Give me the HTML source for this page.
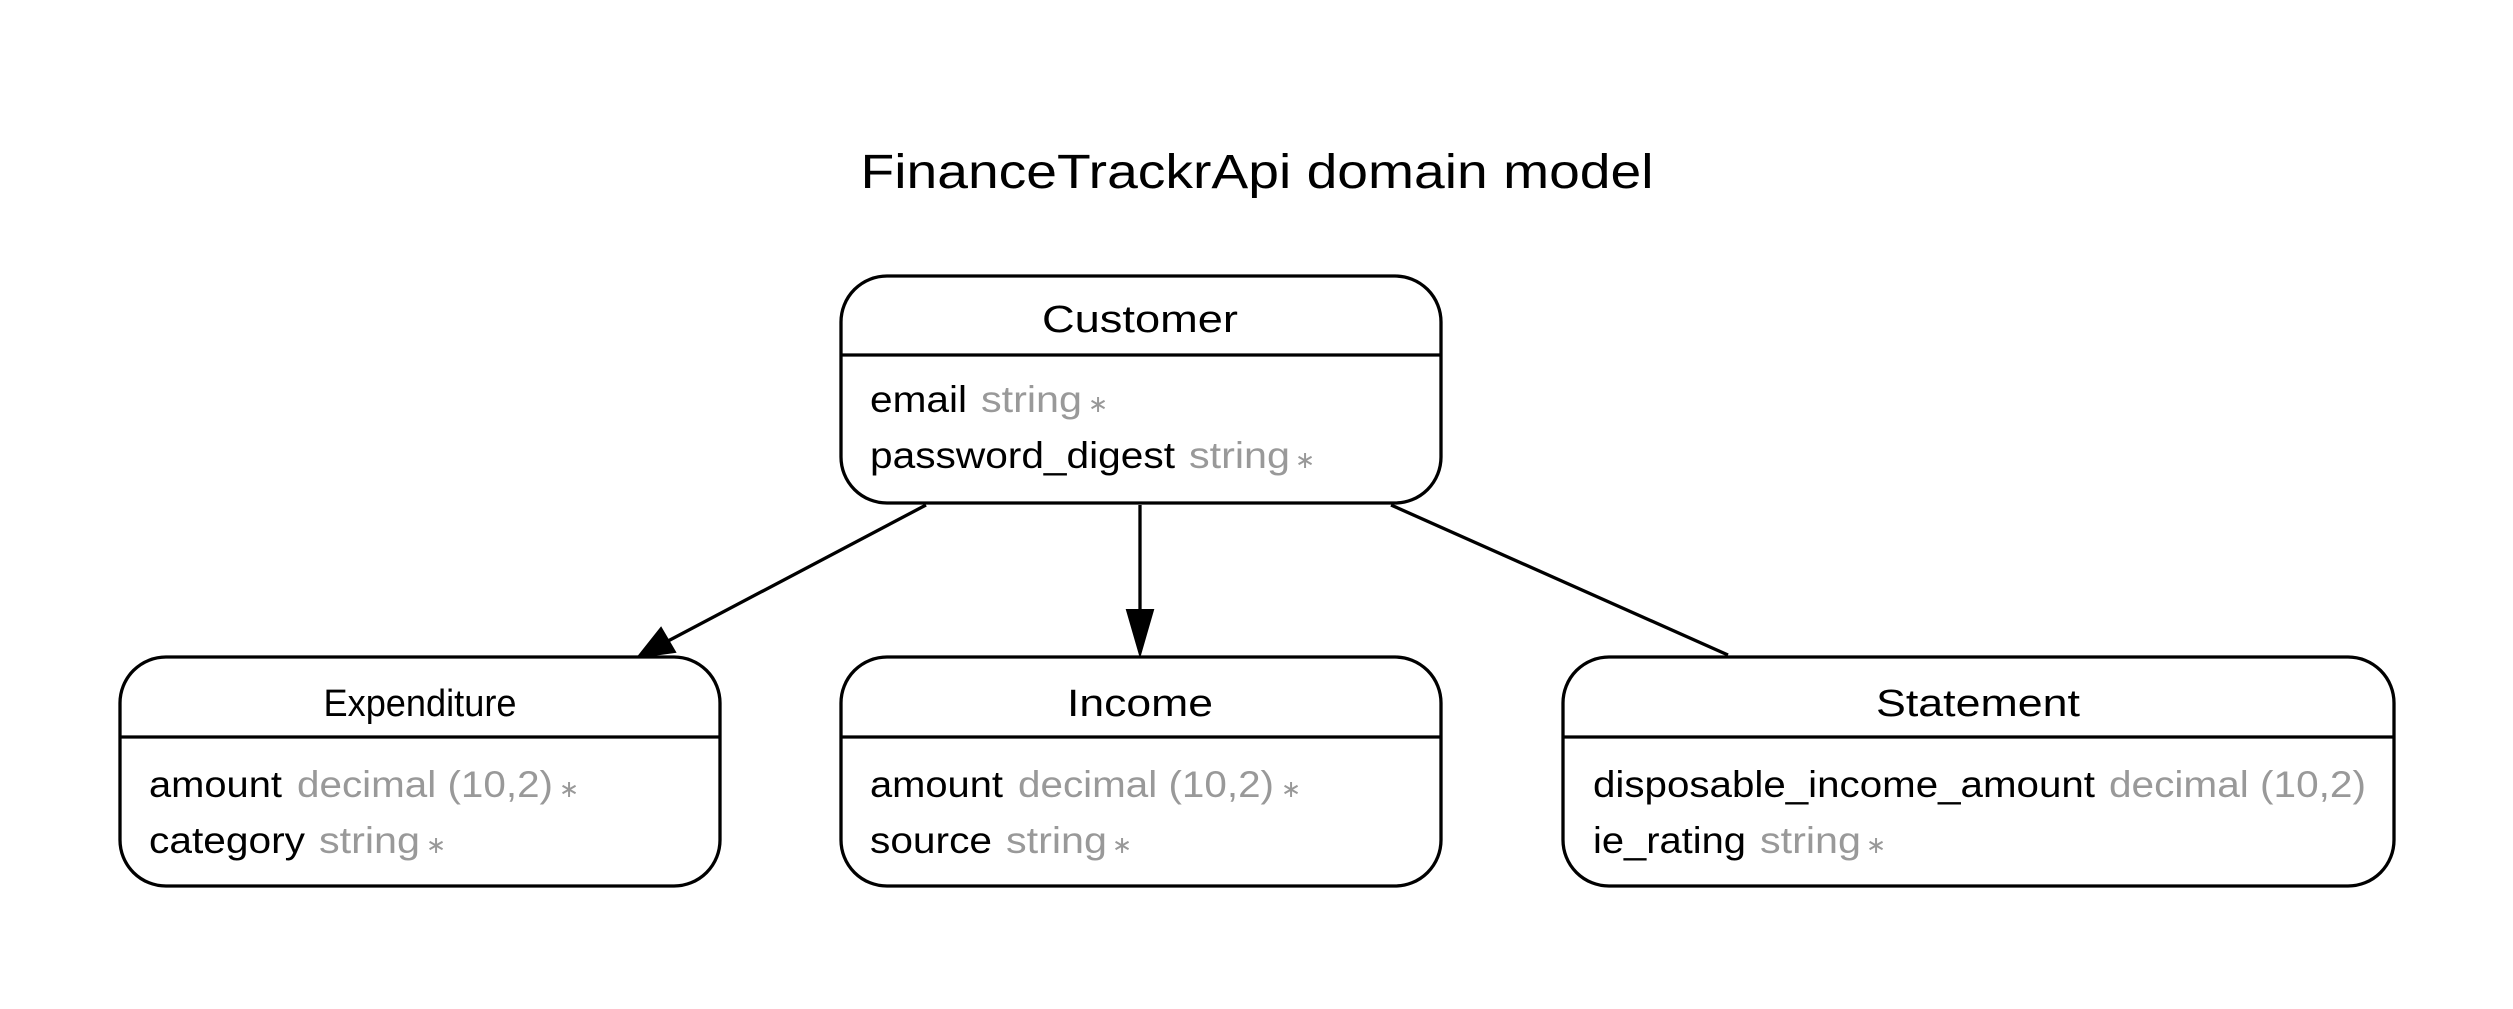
<!DOCTYPE html>
<html><head><meta charset="utf-8"><style>
html,body{margin:0;padding:0;background:#fff;}
svg{display:block;}
text{font-family:"Liberation Sans",Arial,sans-serif;}
.n{font-size:38px;fill:#000;}
.a{font-size:37px;fill:#000;}
.t{font-size:37px;fill:#999;}
.s{font-size:24px;fill:#999;}
</style></head><body>
<svg width="2513" height="1009" viewBox="0 0 2513 1009" xmlns="http://www.w3.org/2000/svg">
<rect width="2513" height="1009" fill="#fff"/>
<text x="1257" y="188" text-anchor="middle" font-size="48" textLength="793" lengthAdjust="spacingAndGlyphs">FinanceTrackrApi domain model</text>

<g fill="none" stroke="#000" stroke-width="3.3">
<rect x="841" y="276" width="600" height="227" rx="46"/>
<line x1="841" y1="355" x2="1441" y2="355"/>
<rect x="120" y="657" width="600" height="229" rx="46"/>
<line x1="120" y1="737" x2="720" y2="737"/>
<rect x="841" y="657" width="600" height="229" rx="46"/>
<line x1="841" y1="737" x2="1441" y2="737"/>
<rect x="1563" y="657" width="831" height="229" rx="46"/>
<line x1="1563" y1="737" x2="2394" y2="737"/>
<line x1="926" y1="505" x2="668" y2="641"/>
<line x1="1140" y1="505" x2="1140" y2="612"/>
<line x1="1391" y1="505" x2="1728" y2="655"/>
</g>
<polygon points="638,657 661,628 675,652" fill="#000" stroke="#000" stroke-width="2"/>
<polygon points="1140,655 1127,610 1153,610" fill="#000" stroke="#000" stroke-width="2"/>

<text class="n" x="1140" y="332" text-anchor="middle" textLength="196" lengthAdjust="spacingAndGlyphs">Customer</text>
<text class="a" x="870" y="412" textLength="97" lengthAdjust="spacingAndGlyphs">email</text>
<text class="t" x="981" y="412" textLength="101" lengthAdjust="spacingAndGlyphs">string</text>
<text class="s" x="1088" y="412">∗</text>
<text class="a" x="870" y="468" textLength="305" lengthAdjust="spacingAndGlyphs">password_digest</text>
<text class="t" x="1189" y="468" textLength="101" lengthAdjust="spacingAndGlyphs">string</text>
<text class="s" x="1295" y="468">∗</text>

<text class="n" x="420" y="716" text-anchor="middle" textLength="193" lengthAdjust="spacingAndGlyphs">Expenditure</text>
<text class="a" x="149" y="797" textLength="133" lengthAdjust="spacingAndGlyphs">amount</text>
<text class="t" x="297" y="797" textLength="256" lengthAdjust="spacingAndGlyphs">decimal (10,2)</text>
<text class="s" x="559" y="797">∗</text>
<text class="a" x="149" y="853" textLength="156" lengthAdjust="spacingAndGlyphs">category</text>
<text class="t" x="319" y="853" textLength="101" lengthAdjust="spacingAndGlyphs">string</text>
<text class="s" x="426" y="853">∗</text>

<text class="n" x="1140" y="716" text-anchor="middle" textLength="146" lengthAdjust="spacingAndGlyphs">Income</text>
<text class="a" x="870" y="797" textLength="133" lengthAdjust="spacingAndGlyphs">amount</text>
<text class="t" x="1018" y="797" textLength="256" lengthAdjust="spacingAndGlyphs">decimal (10,2)</text>
<text class="s" x="1281" y="797">∗</text>
<text class="a" x="870" y="853" textLength="122" lengthAdjust="spacingAndGlyphs">source</text>
<text class="t" x="1006" y="853" textLength="101" lengthAdjust="spacingAndGlyphs">string</text>
<text class="s" x="1112" y="853">∗</text>

<text class="n" x="1978" y="716" text-anchor="middle" textLength="204" lengthAdjust="spacingAndGlyphs">Statement</text>
<text class="a" x="1593" y="797" textLength="502" lengthAdjust="spacingAndGlyphs">disposable_income_amount</text>
<text class="t" x="2109" y="797" textLength="257" lengthAdjust="spacingAndGlyphs">decimal (10,2)</text>
<text class="a" x="1593" y="853" textLength="153" lengthAdjust="spacingAndGlyphs">ie_rating</text>
<text class="t" x="1760" y="853" textLength="101" lengthAdjust="spacingAndGlyphs">string</text>
<text class="s" x="1866" y="853">∗</text>
</svg>
</body></html>
